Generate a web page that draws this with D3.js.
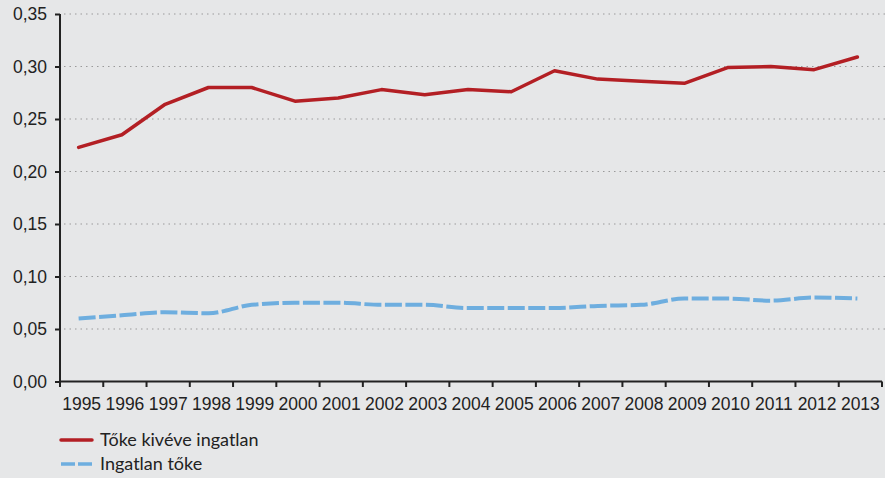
<!DOCTYPE html>
<html>
<head>
<meta charset="utf-8">
<script src="https://cdn.jsdelivr.net/npm/d3@7"></script>
<style>
  body { margin: 0; background: #e6e7e8; }
  svg { display: block; font-family: Lato, "Open Sans", sans-serif; }
</style>
</head>
<body>
<script>
// adatok
var years = ["1995","1996","1997","1998","1999","2000","2001","2002","2003","2004",
             "2005","2006","2007","2008","2009","2010","2011","2012","2013"];
var tokeKiveveIngatlan = [0.223,0.235,0.264,0.280,0.280,0.267,0.270,0.278,0.273,0.278,
                          0.276,0.296,0.288,0.286,0.284,0.299,0.300,0.297,0.309];
var ingatlanToke = [0.060,0.063,0.066,0.065,0.073,0.075,0.075,0.073,0.073,0.070,
                    0.070,0.070,0.072,0.073,0.079,0.079,0.077,0.080,0.079];
var yTicks = [0,0.05,0.10,0.15,0.20,0.25,0.30,0.35];
var seriesNames = ["Tőke kivéve ingatlan", "Ingatlan tőke"];

var width = 885, height = 478;
var svg = d3.select("body").append("svg").attr("width", width).attr("height", height);

var x = d3.scaleBand().domain(years).range([60, 882]);
var y = d3.scaleLinear().domain([0, 0.35]).range([381.5, 14]);
var fmt = function (d) { return d3.format(".2f")(d).replace(".", ","); };

// rácsvonalak
svg.append("g").selectAll("line").data(yTicks.filter(function (d) { return d > 0; }))
  .enter().append("line")
  .attr("x1", 64).attr("x2", width)
  .attr("y1", function (d) { return y(d); })
  .attr("y2", function (d) { return y(d); })
  .attr("stroke", "#9a9a9a").attr("stroke-width", 1.2)
  .attr("stroke-dasharray", "1.5,4");

// tengelyek
var yAxis = svg.append("g").attr("transform", "translate(60,0)")
  .call(d3.axisLeft(y).tickValues(yTicks).tickFormat(fmt).tickSize(5).tickPadding(8));
yAxis.select(".domain").attr("stroke", "#222").attr("stroke-width", 2).attr("d", "M0,14V381.5");
yAxis.selectAll(".tick line").attr("stroke", "#222").attr("stroke-width", 2);
yAxis.selectAll("text").attr("font-size", 17.5).attr("fill", "#222");

var xAxis = svg.append("g").attr("transform", "translate(0,381.5)")
  .call(d3.axisBottom(x).tickSize(0).tickPadding(16));
xAxis.select(".domain").attr("stroke", "#222").attr("stroke-width", 2).attr("d", "M60,0H882");
xAxis.selectAll("text").attr("font-size", 17.5).attr("fill", "#222");
svg.append("g").selectAll("line").data(years.concat(["end"])).enter().append("line")
  .attr("x1", function (d, i) { return 60 + i * x.bandwidth(); })
  .attr("x2", function (d, i) { return 60 + i * x.bandwidth(); })
  .attr("y1", 381.5).attr("y2", 387)
  .attr("stroke", "#222").attr("stroke-width", 2);

var px = function (d, i) { return x(years[i]) + x.bandwidth() / 2 - 3; };

// vonalak
svg.append("path").datum(tokeKiveveIngatlan)
  .attr("fill", "none").attr("stroke", "#b31f24").attr("stroke-width", 3.5)
  .attr("stroke-linejoin", "round").attr("stroke-linecap", "round")
  .attr("d", d3.line().x(px).y(function (d) { return y(d); }));

svg.append("path").datum(ingatlanToke)
  .attr("fill", "none").attr("stroke", "#6eaedf").attr("stroke-width", 4)
  .attr("stroke-dasharray", "17,3.5").attr("stroke-linecap", "butt")
  .attr("d", d3.line().x(px).y(function (d) { return y(d); }).curve(d3.curveMonotoneX));

// jelmagyarázat
var legend = svg.append("g");
legend.append("line").attr("x1", 61).attr("x2", 92).attr("y1", 440).attr("y2", 440)
  .attr("stroke", "#b31f24").attr("stroke-width", 3.5).attr("stroke-linecap", "round");
legend.append("line").attr("x1", 61).attr("x2", 92).attr("y1", 464).attr("y2", 464)
  .attr("stroke", "#6eaedf").attr("stroke-width", 3.5).attr("stroke-dasharray", "14,3")
  .attr("stroke-linecap", "butt");
legend.selectAll("text").data(seriesNames).enter().append("text")
  .attr("x", 100).attr("y", function (d, i) { return 446 + i * 24; })
  .attr("font-size", 18).attr("fill", "#222")
  .text(function (d) { return d; });
</script>
</body>
</html>
